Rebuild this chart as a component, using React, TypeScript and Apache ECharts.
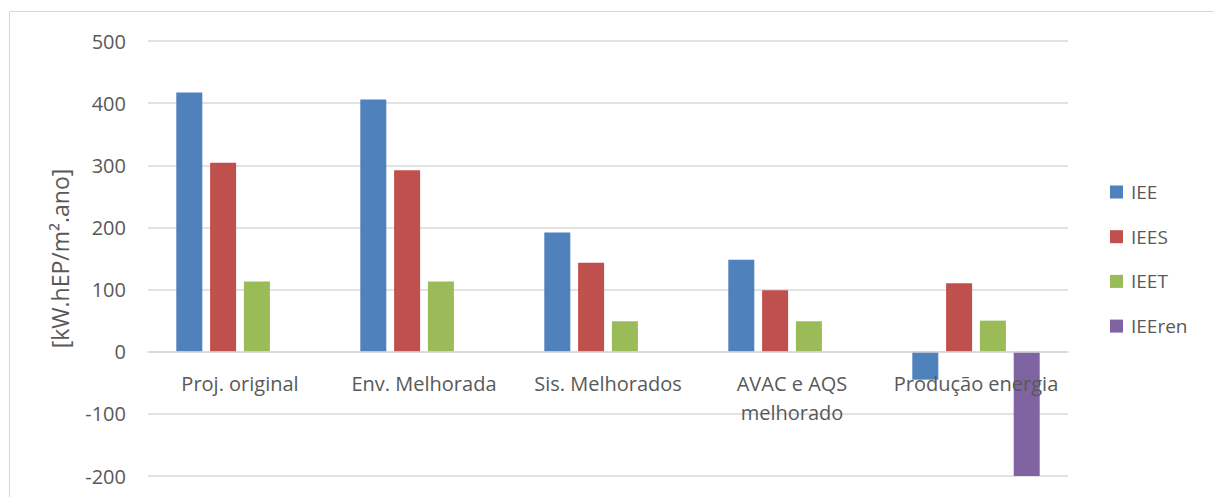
import React, { useEffect, useRef } from "react";
import * as echarts from "echarts";

const categories = ["Proj. original", "Env. Melhorada", "Sis. Melhorados", "AVAC e AQS\nmelhorado", "Produção energia"];
const seriesNames = ["IEE", "IEES", "IEET", "IEEren"];
const iee = [417, 406, 192, 148, -45];
const iees = [304, 292, 143, 99, 110];
const ieet = [113, 113, 49, 49, 50];
const ieeren = [0, 0, 0, 0, -204];
const colors = ["#4F81BD", "#C0504D", "#9BBB59", "#8064A2"];
const yTitle = "[kW.hEP/m².ano]";

const FONT = "'Open Sans', sans-serif";
const TEXT = "#595959";
const GRID = "#d9d9d9";
const Y_MIN = -200;
const Y_MAX = 500;

export default function App() {
  const ref = useRef<HTMLDivElement>(null);
  useEffect(() => {
    if (!ref.current) return;
    const chart = echarts.init(ref.current, null, { renderer: "svg" });
    const data = [iee, iees, ieet, ieeren];
    const gridTop = 41;
    const gridBottom = 21;
    const gridH = 497 - gridTop - gridBottom;
    const zeroOffset = -(gridH * (0 - Y_MIN)) / (Y_MAX - Y_MIN);
    chart.setOption({
      animation: false,
      backgroundColor: "#ffffff",
      textStyle: { fontFamily: FONT },
      grid: { left: 148, right: 146, top: gridTop, bottom: gridBottom, containLabel: false, outerBoundsMode: "none" },
      legend: {
        orient: "vertical",
        left: 1110,
        top: 182,
        padding: 0,
        itemWidth: 13,
        itemHeight: 13,
        itemGap: 24.7,
        icon: "rect",
        data: seriesNames,
        textStyle: { color: TEXT, fontSize: 19, fontFamily: FONT, lineHeight: 20, padding: [0, 0, 0, 3] },
      },
      xAxis: {
        type: "category",
        data: categories,
        z: 3,
        position: "bottom",
        offset: zeroOffset,
        axisLine: { onZero: false, lineStyle: { color: GRID, width: 1.5 } },
        axisTick: { show: false },
        axisLabel: { color: TEXT, fontSize: 20, fontFamily: FONT, lineHeight: 29, margin: 17, interval: 0 },
      },
      yAxis: {
        type: "value",
        min: Y_MIN,
        max: Y_MAX,
        interval: 100,
        name: yTitle,
        nameLocation: "middle",
        nameGap: 77,
        nameRotate: 90,
        nameTextStyle: { color: TEXT, fontSize: 23, fontFamily: FONT },
        axisLine: { show: false },
        axisTick: { show: false },
        axisLabel: { color: TEXT, fontSize: 20, fontFamily: FONT, margin: 22 },
        splitLine: { lineStyle: { color: GRID, width: 1.5 } },
      },
      graphic: [
        {
          type: "rect",
          shape: { x: 9.5, y: 11.5, width: 1400, height: 700 },
          style: { fill: "none", stroke: GRID, lineWidth: 1 },
          silent: true,
        },
      ],
      series: seriesNames.map((name, i) => ({
        name,
        type: "bar",
        data: data[i],
        barWidth: 26,
        barGap: "30%",
        itemStyle: { color: colors[i] },
      })),
    });
    return () => chart.dispose();
  }, []);
  return <div ref={ref} style={{ position: "fixed", left: 0, top: 0, width: 1214, height: 497 }} />;
}
